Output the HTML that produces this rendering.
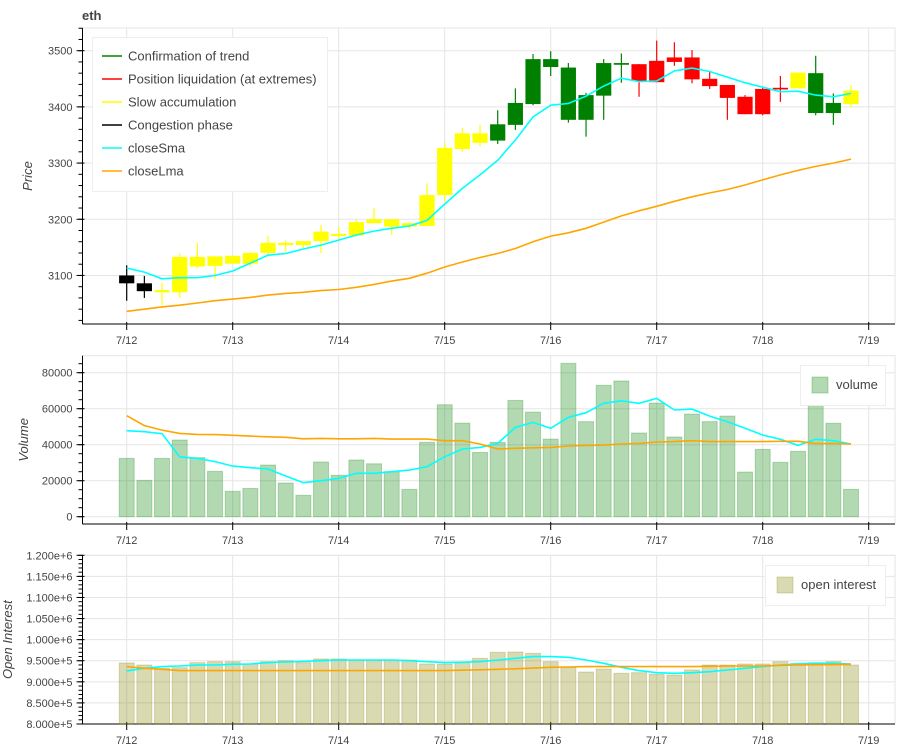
<!DOCTYPE html>
<html><head><meta charset="utf-8"><style>
body{margin:0;background:#fff;}
svg{display:block;font-family:"Liberation Sans",sans-serif;}
.tick{font-size:11px;fill:#444;}
</style></head><body>
<svg id="c" width="900" height="750" xmlns="http://www.w3.org/2000/svg"></svg>
<script>
const dayLabels=["7/12","7/13","7/14","7/15","7/16","7/17","7/18","7/19"];
const cat=["k","k","y","y","y","y","y","y","y","y","y","y","y","y","y","y","y","y","y","y","y","g","g","g","g","g","g","g","g","r","r","r","r","r","r","r","r","r","y","g","g","y"];
const bodyTop=[3100,3086,3074,3133,3133,3134,3135,3140,3158,3158,3161,3178,3174,3195,3200,3200,3193,3243,3327,3353,3353,3369,3407,3485,3485,3470,3421,3478,3478,3476,3482,3488,3488,3450,3439,3418,3432,3434,3461,3460,3407,3429];
const bodyBot=[3086,3072,3070,3070,3116,3117,3121,3121,3140,3154,3154,3161,3170,3171,3193,3187,3187,3188,3243,3325,3336,3340,3368,3405,3471,3377,3377,3420,3475,3446,3444,3480,3449,3437,3416,3387,3387,3431,3433,3389,3389,3405];
const high=[3118,3099,3087,3139,3158,3134,3135,3142,3170,3162,3161,3190,3186,3200,3220,3200,3195,3264,3337,3362,3368,3394,3433,3494,3499,3478,3425,3485,3495,3476,3518,3515,3501,3463,3439,3421,3436,3455,3461,3491,3424,3439];
const low=[3055,3060,3047,3060,3113,3093,3121,3116,3133,3142,3149,3140,3162,3168,3193,3172,3183,3188,3232,3320,3330,3334,3359,3403,3455,3372,3347,3377,3443,3418,3444,3473,3442,3432,3377,3387,3385,3409,3433,3385,3368,3399];
const closeSma=[3113,3106,3094,3096,3096,3100,3108,3122,3136,3139,3147,3154,3163,3172,3179,3184,3188,3198,3227,3255,3279,3305,3341,3382,3403,3406,3419,3437,3451,3445,3446,3464,3469,3463,3453,3443,3435,3427,3428,3421,3418,3424];
const closeLma=[3036,3040,3044,3047,3051,3055,3058,3061,3065,3068,3070,3073,3075,3079,3084,3090,3095,3104,3115,3124,3132,3139,3148,3160,3170,3176,3184,3195,3206,3215,3223,3232,3240,3247,3253,3261,3270,3279,3287,3294,3300,3307];
const volume=[32400,20200,32400,42600,32800,25200,14100,15700,28700,18700,11900,30400,23000,31500,29400,25000,15200,41300,62200,52000,35700,41300,64600,58100,43100,85200,52800,73000,75400,46500,63100,44300,57000,52800,55900,24800,37400,30200,36300,61700,51900,15200];
const volSma=[47800,47200,46100,33300,32400,30600,28100,27200,26500,22600,18900,20000,21300,24100,24100,25000,25900,27800,33300,37600,38500,40700,49600,52400,49100,55200,57800,63000,64400,63000,65700,59300,59800,55900,52800,49100,45400,43000,39600,43000,42200,40400];
const volLma=[56100,50600,48100,46300,45700,45600,45200,44800,44400,44100,43300,43500,43300,43300,43500,43100,43100,43100,42200,42200,40400,37600,38000,38300,38500,39300,39600,39800,40400,40700,41500,41700,42200,41700,41700,41700,41700,41900,41900,40700,40700,40400];
const oi=[944700,939900,932000,933600,945500,947800,947800,942300,947800,950200,945500,954200,954200,951800,951800,951800,951800,942300,942300,945500,955700,970000,970800,967600,947800,934400,923300,930400,920200,921700,917800,916200,928100,939900,939900,942300,942300,947800,943900,945500,947800,939900];
const oiSma=[925700,932000,936000,937500,939900,939900,941500,942300,945500,947000,948600,950200,951800,951800,951800,951800,950200,947800,945500,946300,947800,951800,955700,959700,959700,958100,951800,943900,934400,926500,921700,920200,921700,924100,928100,932000,936000,939900,942300,943900,943900,942300];
const oiLma=[936000,932000,929600,926500,926500,926500,926500,926500,926500,926500,926500,926500,926500,926500,926500,926500,926500,926500,926500,927500,928500,929600,931000,932500,934400,935200,936000,936000,936000,936000,936000,936000,936000,936800,937500,937500,937500,939100,939900,940700,940700,941500];

const NS="http://www.w3.org/2000/svg";
const svg=document.getElementById('c');
function el(t,a,p){const e=document.createElementNS(NS,t);for(const k in a)e.setAttribute(k,a[k]);(p||svg).appendChild(e);return e;}
const L=82.5,R=895,x0=126.7,pxDay=106.0;
function xs(i){return x0+i*pxDay/6;}
function xd(d){return x0+d*pxDay;}
const P={top:28,bot:324,min:3013.6,max:3540.4};
const V={top:355.7,bot:524,min:-4056,max:89444};
const O={top:555.3,bot:724,min:800000,max:1200000};
function ys(p,v){return p.bot-(v-p.min)/(p.max-p.min)*(p.bot-p.top);}

function panel(p,name,majors,minorStep,fmt,title,titleX){
  const g=el('g',{});
  
  
  el('rect',{x:L,y:p.top,width:R-L,height:p.bot-p.top,fill:'none',stroke:'#e5e5e5'},g);
  dayLabels.forEach((d,i)=>{el('line',{x1:xd(i),x2:xd(i),y1:p.top,y2:p.bot,stroke:'#e5e5e5'},g);});
  majors.forEach(v=>{const y=ys(p,v);el('line',{x1:L,x2:R,y1:y,y2:y,stroke:'#e5e5e5'},g);});
  const ax=el('g',{},g);
  
  
  el('line',{x1:L,x2:L,y1:p.top,y2:p.bot,stroke:'#000'},ax);
  for(let v=Math.ceil(p.min/minorStep)*minorStep;v<=p.max;v+=minorStep){const y=ys(p,v);el('line',{x1:L-4,x2:L,y1:y,y2:y,stroke:'#000'},ax);}
  majors.forEach(v=>{const y=ys(p,v);el('line',{x1:L-6,x2:L+2,y1:y,y2:y,stroke:'#000'},ax);
    const t=el('text',{x:L-10,y:y+4,'text-anchor':'end',class:'tick'},ax);t.textContent=fmt(v);});
  const xa=el('g',{},g);
  
  
  el('line',{x1:L,x2:R,y1:p.bot,y2:p.bot,stroke:'#000'},xa);
  dayLabels.forEach((d,i)=>{const x=xd(i);el('line',{x1:x,x2:x,y1:p.bot-2,y2:p.bot+6,stroke:'#000'},xa);
    const t=el('text',{x:x,y:p.bot+20,'text-anchor':'middle',class:'tick'},xa);t.textContent=d;});
  const tt=el('text',{x:titleX,y:(p.top+p.bot)/2,'text-anchor':'middle','font-size':'13px','font-style':'italic',fill:'#444',transform:'rotate(-90 '+titleX+' '+(p.top+p.bot)/2+')'},g);
  
  
  tt.textContent=title;
  return g;
}
function line(p,arr,color,name,g){
  const d=arr.map((v,i)=>(i?'L':'M')+xs(i).toFixed(1)+' '+ys(p,v).toFixed(1)).join(' ');
  const e=el('path',{d:d,fill:'none',stroke:color,'stroke-width':1.6},g);
  
  
}
// title
const ti=el('text',{x:82,y:20,'font-size':'13px','font-weight':'bold',fill:'#444'});


ti.textContent='eth';

// price panel
const pg=panel(P,'price',[3100,3200,3300,3400,3500],20,v=>String(v),'Price',32);
const colors={g:'#008000',r:'#ff0000',y:'#ffff00',k:'#000000'};
cat.forEach((c,i)=>{
  const x=xs(i),col=colors[c];
  const cg=el('g',{},pg);
  
  
  el('line',{x1:x,x2:x,y1:ys(P,high[i]),y2:ys(P,low[i]),stroke:col,'stroke-width':1.2},cg);
  const t=ys(P,bodyTop[i]),b=ys(P,bodyBot[i]);
  el('rect',{x:x-7.6,y:t,width:15.2,height:Math.max(1.5,b-t),fill:col},cg);
});
line(P,closeSma,'#00ffff','close-sma-line',pg);
line(P,closeLma,'#ffa500','close-lma-line',pg);
// legend
const lg=el('g',{},pg);


el('rect',{x:92.5,y:37.5,width:235,height:154,fill:'#fff',stroke:'#eee'},lg);
const legItems=[["Confirmation of trend","#008000"],["Position liquidation (at extremes)","#ff0000"],["Slow accumulation","#ffff00"],["Congestion phase","#000000"],["closeSma","#00ffff"],["closeLma","#ffa500"]];
legItems.forEach((it,i)=>{
  const y=56+i*23;
  const e=el('g',{},lg);
  
  
  el('line',{x1:102,x2:122,y1:y,y2:y,stroke:it[1],'stroke-width':1.5},e);
  const t=el('text',{x:128,y:y+4.5,'font-size':'13px',fill:'#444'},e);t.textContent=it[0];
});

// volume panel
const vg=panel(V,'volume',[0,20000,40000,60000,80000],5000,v=>String(v),'Volume',28);
volume.forEach((v,i)=>{
  const r=el('rect',{x:xs(i)-7.5,y:ys(V,v),width:15,height:ys(V,0)-ys(V,v),fill:'#008000','fill-opacity':0.3,stroke:'#008000','stroke-opacity':0.25},vg);
  
  
});
line(V,volSma,'#00ffff','volume-sma-line',vg);
line(V,volLma,'#ffa500','volume-lma-line',vg);
const vl=el('g',{},vg);


el('rect',{x:800.5,y:365.5,width:85,height:40,fill:'#fff',stroke:'#eee'},vl);
el('rect',{x:812,y:377,width:16,height:16,fill:'#008000','fill-opacity':0.3,stroke:'#008000','stroke-opacity':0.25},vl);
const vt=el('text',{x:836,y:389,'font-size':'13px',fill:'#444'},vl);vt.textContent='volume';

// OI panel
const og=panel(O,'open-interest',[800000,850000,900000,950000,1000000,1050000,1100000,1150000,1200000],10000,v=>(v/1e6).toFixed(3)==='1.000'?'1.000e+6':(v>=1e6?(v/1e6).toFixed(3)+'e+6':(v/1e5).toFixed(3)+'e+5'),'Open Interest',12);
oi.forEach((v,i)=>{
  const r=el('rect',{x:xs(i)-7.5,y:ys(O,v),width:15,height:ys(O,O.min)-ys(O,v),fill:'#808000','fill-opacity':0.3,stroke:'#808000','stroke-opacity':0.25},og);
  
  
});
line(O,oiSma,'#00ffff','open-interest-sma-line',og);
line(O,oiLma,'#ffa500','open-interest-lma-line',og);
const ol=el('g',{},og);


el('rect',{x:765.5,y:565.5,width:120,height:40,fill:'#fff',stroke:'#eee'},ol);
el('rect',{x:777,y:577,width:16,height:16,fill:'#808000','fill-opacity':0.3,stroke:'#808000','stroke-opacity':0.25},ol);
const ot=el('text',{x:801,y:589,'font-size':'13px',fill:'#444'},ol);ot.textContent='open interest';
</script>
</body></html>
